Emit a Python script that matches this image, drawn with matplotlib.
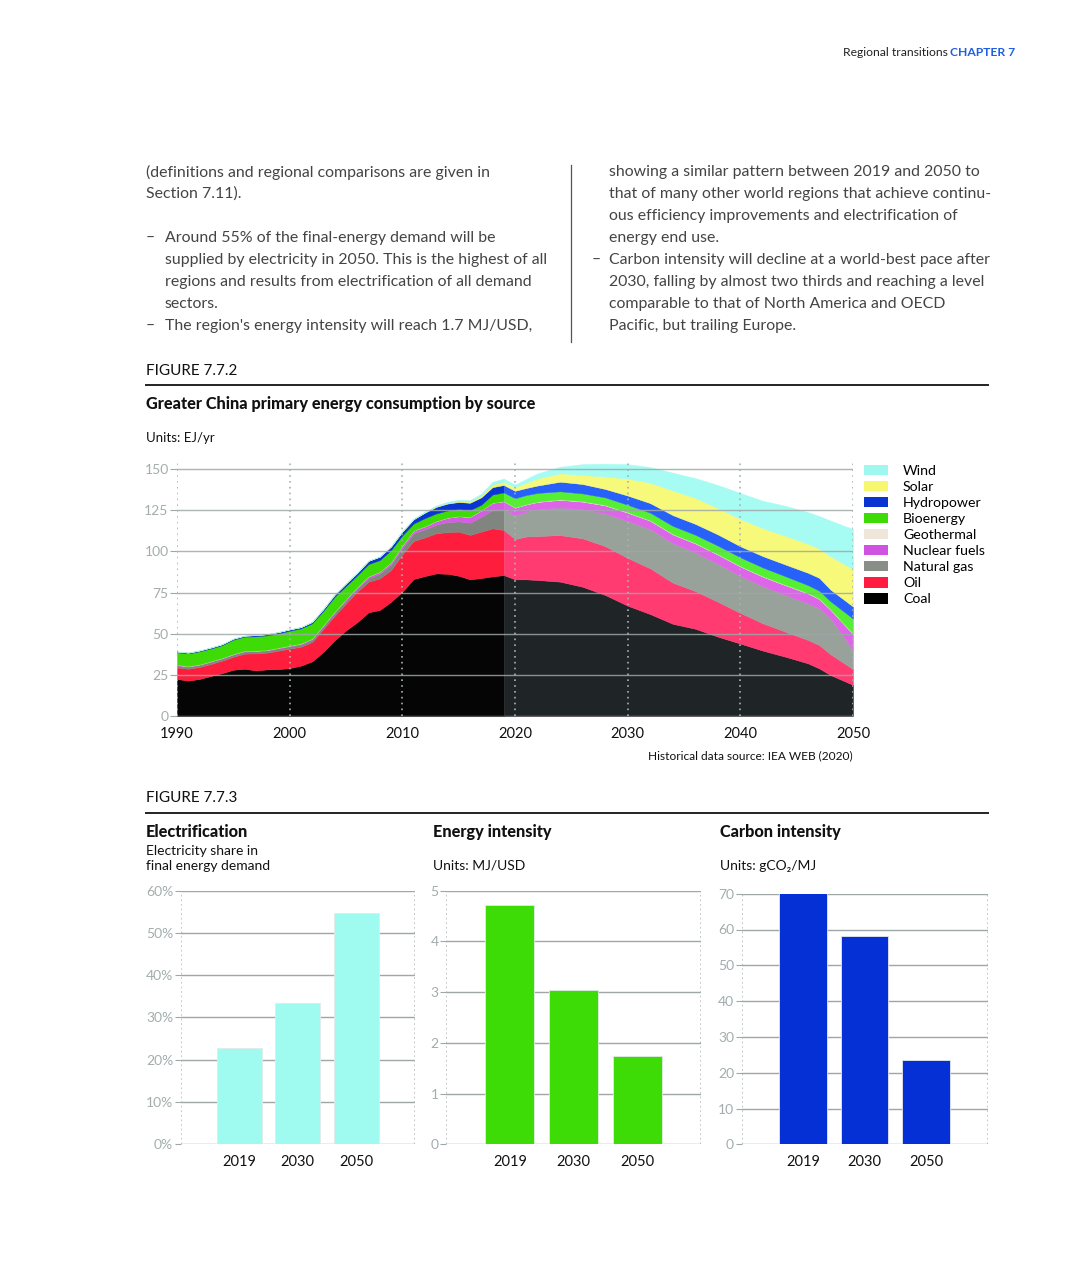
import matplotlib.pyplot as plt
from matplotlib.lines import Line2D
from matplotlib.patches import Patch
import numpy as np

plt.rcParams['font.family'] = ['Lato', 'DejaVu Sans']

W, H = 1087, 1276

# ---- data: primary energy by source (EJ/yr), historical
hist_years = list(range(1990, 2020))
hist_coal = [22.5, 21.5, 22.5, 24.3, 26.0, 28.1, 28.7, 27.7, 28.3, 28.5, 29.1, 30.6, 33.2, 39.0, 46.0,
             52.0, 57.0, 63.0, 64.4, 69.4, 75.5, 83.2, 85.0, 86.6, 86.4, 85.2, 83.0, 83.8, 84.8, 85.6]
hist_oil = [7.0, 7.2, 7.3, 7.3, 7.6, 7.9, 9.2, 10.3, 10.2, 11.2, 11.8, 11.5, 11.8, 14.0, 15.0,
            16.4, 18.5, 18.6, 19.2, 19.3, 22.7, 23.1, 23.5, 24.4, 25.3, 26.8, 27.0, 28.2, 29.2, 27.4]
hist_gas = [1.2, 1.2, 1.2, 1.3, 1.3, 1.3, 1.3, 1.3, 1.3, 1.3, 1.4, 1.4, 1.5, 1.6, 1.8,
            1.9, 2.0, 2.2, 2.9, 3.3, 3.8, 4.7, 4.9, 5.2, 6.1, 6.2, 7.4, 9.0, 11.0, 12.6]
hist_nuclear = [0.3, 0.3, 0.3, 0.3, 0.3, 0.3, 0.3, 0.3, 0.3, 0.4, 0.4, 0.5, 0.5, 0.6, 0.6,
                0.7, 0.8, 1.0, 1.1, 1.3, 1.5, 1.6, 1.8, 2.1, 2.6, 3.1, 3.5, 3.8, 4.5, 4.8]
hist_geo = [0.1, 0.1, 0.1, 0.1, 0.1, 0.1, 0.1, 0.1, 0.1, 0.1, 0.1, 0.1, 0.1, 0.1, 0.1,
            0.1, 0.1, 0.1, 0.1, 0.1, 0.1, 0.1, 0.1, 0.1, 0.1, 0.1, 0.1, 0.1, 0.1, 0.1]
hist_bio = [7.6, 7.7, 7.9, 7.7, 7.7, 8.7, 8.6, 8.7, 8.8, 8.7, 9.0, 9.1, 9.2, 8.7, 9.0,
            7.9, 7.1, 7.4, 7.0, 7.4, 6.1, 4.2, 4.9, 4.6, 4.3, 4.3, 4.0, 3.4, 4.9, 5.3]
hist_hydro = [0.5, 0.5, 0.5, 0.6, 0.6, 0.6, 0.6, 0.7, 0.7, 0.8, 0.8, 0.8, 0.9, 1.1, 1.3,
              1.5, 1.5, 2.0, 2.1, 2.2, 2.3, 2.6, 3.3, 4.0, 4.2, 4.3, 4.5, 4.5, 4.5, 4.5]
hist_solar = [0.0, 0.0, 0.0, 0.0, 0.0, 0.0, 0.0, 0.0, 0.0, 0.0, 0.0, 0.0, 0.0, 0.0, 0.0,
              0.0, 0.0, 0.0, 0.0, 0.0, 0.05, 0.1, 0.2, 0.3, 0.4, 0.5, 0.7, 1.0, 1.6, 2.0]
hist_wind = [0.0, 0.0, 0.0, 0.0, 0.0, 0.0, 0.0, 0.0, 0.0, 0.0, 0.0, 0.0, 0.0, 0.0, 0.0,
             0.0, 0.0, 0.0, 0.1, 0.2, 0.3, 0.4, 0.5, 0.6, 0.7, 0.8, 0.9, 1.2, 1.6, 1.9]

# ---- projection
proj_years = [2019, 2020, 2021, 2022, 2024, 2026, 2028, 2030, 2032, 2034, 2036, 2038, 2040,
              2042, 2044, 2046, 2047, 2048, 2050]
proj_coal = [85.6, 83.0, 83.0, 82.6, 81.6, 78.5, 73.5, 67.0, 61.9, 56.0, 53.0, 48.2, 44.0,
             39.7, 36.0, 32.0, 28.9, 24.9, 18.9]
proj_oil = [27.4, 24.5, 26.0, 26.7, 28.3, 29.4, 29.7, 29.0, 27.8, 25.0, 22.9, 21.2, 18.6,
            16.6, 15.2, 14.2, 14.2, 12.6, 9.6]
proj_gas = [12.6, 14.5, 15.0, 16.2, 16.8, 17.6, 19.9, 22.5, 23.8, 24.0, 23.5, 23.0, 22.5,
            22.5, 22.3, 22.2, 22.3, 21.9, 11.5]
proj_nuclear = [4.8, 4.5, 4.5, 4.5, 4.6, 4.7, 4.8, 5.0, 5.1, 5.3, 5.4, 5.6, 5.7,
                5.8, 5.9, 6.0, 5.6, 5.1, 9.7]
proj_geo = [0.1, 0.2, 0.2, 0.2, 0.3, 0.3, 0.3, 0.3, 0.3, 0.3, 0.3, 0.3, 0.3,
            0.3, 0.3, 0.3, 0.3, 0.3, 0.3]
proj_bio = [5.3, 5.6, 5.5, 5.3, 4.9, 4.7, 4.6, 4.5, 4.6, 4.9, 5.0, 5.2, 5.3,
            5.3, 5.2, 4.8, 4.8, 4.9, 9.2]
proj_hydro = [4.5, 4.5, 4.3, 4.5, 5.8, 5.7, 5.1, 5.6, 5.8, 6.5, 6.6, 6.8, 6.7,
              6.9, 7.1, 7.5, 7.8, 7.1, 7.3]
proj_solar = [2.0, 2.2, 3.2, 4.3, 5.1, 5.5, 7.6, 10.3, 12.4, 15.0, 15.8, 16.0, 16.6,
              17.0, 17.4, 17.6, 17.8, 20.2, 22.7]
proj_wind = [1.9, 1.6, 2.3, 3.1, 4.0, 6.6, 7.7, 8.8, 9.5, 10.8, 12.0, 14.0, 15.7,
             16.6, 18.3, 19.2, 19.8, 21.7, 24.3]

sources = ['Coal', 'Oil', 'Natural gas', 'Nuclear fuels', 'Geothermal',
           'Bioenergy', 'Hydropower', 'Solar', 'Wind']
hist_colors = ['#050505', '#ff1d3d', '#80867f', '#d35ee2', '#efe6d6',
               '#3fdb06', '#0b35d2', '#f4f46a', '#a0f7f0']
proj_colors = ['#1f2427', '#ff3b72', '#99a19b', '#dd66e8', '#f2eadc',
               '#55ef33', '#2860fa', '#f7f97a', '#a6fbf3']
legend_colors = ['#000000', '#ff1c40', '#8a8e88', '#d052e0', '#eee6d8',
                 '#3ddc06', '#0a34d1', '#f6f76e', '#9ff8f0']

# ---- figure 7.7.3 bars
bar_labels = ['2019', '2030', '2050']
electrification = [22.8, 33.4, 54.7]
energy_intensity = [4.72, 3.03, 1.74]
carbon_intensity = [70.5, 58.2, 23.6]

GRID = '#9ea8a8'
TICK = '#a3adad'
BODY = '#444444'


def fx(px):
    return px / W


def fy(py):
    return 1 - py / H


def ftext(x, y, s, **kw):
    kw.setdefault('va', 'center')
    fig.text(fx(x), fy(y), s, **kw)


def hline(x0, x1, y, **kw):
    fig.add_artist(Line2D([fx(x0), fx(x1)], [fy(y), fy(y)], **kw))


fig = plt.figure(figsize=(W / 100, H / 100), dpi=100)

# header
ftext(1015, 52, 'CHAPTER 7', ha='right', fontsize=8.7, fontweight='bold', color='#1f5fe0')
ftext(948, 52, 'Regional transitions', ha='right', fontsize=8.7, color='#222222')

# body text
left_lines = [(146, 172, '(definitions and regional comparisons are given in'),
              (146, 194, 'Section 7.11).'),
              (165, 238, 'Around 55% of the final-energy demand will be'),
              (165, 260, 'supplied by electricity in 2050. This is the highest of all'),
              (165, 282, 'regions and results from electrification of all demand'),
              (165, 304, 'sectors.'),
              (165, 326, "The region's energy intensity will reach 1.7 MJ/USD,")]
right_lines = [(609, 172, 'showing a similar pattern between 2019 and 2050 to'),
               (609, 194, 'that of many other world regions that achieve continu-'),
               (609, 216, 'ous efficiency improvements and electrification of'),
               (609, 238, 'energy end use.'),
               (609, 260, 'Carbon intensity will decline at a world-best pace after'),
               (609, 282, '2030, falling by almost two thirds and reaching a level'),
               (609, 304, 'comparable to that of North America and OECD'),
               (609, 326, 'Pacific, but trailing Europe.')]
for x, y, s in left_lines + right_lines:
    ftext(x, y, s, fontsize=11.4, color=BODY)
for x, y in [(146, 238), (146, 326), (592, 260)]:
    ftext(x, y, '–', fontsize=11.4, color=BODY)
fig.add_artist(Line2D([fx(571), fx(571)], [fy(165), fy(342)], color='#555555', lw=0.9))

# figure 7.7.2 header
ftext(146, 371, 'FIGURE 7.7.2', fontsize=11, color='#111111')
hline(146, 988, 385, color='#222222', lw=1.4)
ftext(146, 404, 'Greater China primary energy consumption by source', fontsize=11.7,
      fontweight='black', color='#111111')
ftext(146, 438, 'Units: EJ/yr', fontsize=9.5, color='#111111')

# stacked area
ax = fig.add_axes([fx(177), fy(716), (853 - 177) / W, (716 - 460) / H])
hist_stack = [hist_coal, hist_oil, hist_gas, hist_nuclear, hist_geo,
              hist_bio, hist_hydro, hist_solar, hist_wind]
proj_stack = [proj_coal, proj_oil, proj_gas, proj_nuclear, proj_geo,
              proj_bio, proj_hydro, proj_solar, proj_wind]
ax.stackplot(hist_years, *hist_stack, colors=hist_colors, edgecolor='face', lw=0.3, zorder=2)
ax.stackplot(proj_years, *proj_stack, colors=proj_colors, edgecolor='face', lw=0.3, zorder=2)
ax.set_xlim(1990, 2050)
ax.set_ylim(0, 155.5)
yt = [0, 25, 50, 75, 100, 125, 150]
for t in yt:
    ax.axhline(t, color=GRID, lw=1, alpha=0.85, zorder=3)
for yr in range(1990, 2051, 10):
    ax.axvline(yr, color='#a9b1b1', lw=1.2, ls=(0, (1, 2.5)), zorder=3)
ax.set_yticks(yt)
ax.set_xticks(range(1990, 2051, 10))
for s in ax.spines.values():
    s.set_visible(False)
ax.tick_params(axis='y', length=5, color=GRID, labelcolor=TICK, labelsize=10, pad=1)
ax.tick_params(axis='x', length=0, labelcolor='#111111', labelsize=10.5, pad=8)

handles = [Patch(facecolor=c, edgecolor='none') for c in legend_colors[::-1]]
ax.legend(handles, sources[::-1], loc='upper left', bbox_to_anchor=(fx(864), fy(464.5)),
          bbox_transform=fig.transFigure, frameon=False, fontsize=10.2,
          handlelength=1.7, handleheight=0.8, handletextpad=1.05, labelspacing=0.26,
          borderpad=0, borderaxespad=0)

ftext(853, 756, 'Historical data source: IEA WEB (2020)', ha='right', fontsize=8.6, color='#111111')

# figure 7.7.3 header
ftext(146, 798, 'FIGURE 7.7.3', fontsize=11, color='#111111')
hline(146, 988, 813, color='#222222', lw=1.4)

ftext(146, 832, 'Electrification', fontsize=11.7, fontweight='black', color='#111111')
ftext(146, 851, 'Electricity share in', fontsize=10, color='#111111')
ftext(146, 866, 'final energy demand', fontsize=10, color='#111111')
ftext(433, 832, 'Energy intensity', fontsize=11.7, fontweight='black', color='#111111')
ftext(433, 866, 'Units: MJ/USD', fontsize=10, color='#111111')
ftext(720, 832, 'Carbon intensity', fontsize=11.7, fontweight='black', color='#111111')
ftext(720, 866, 'Units: gCO₂/MJ', fontsize=10, color='#111111')


def bar_panel(left, right, top, values, color, ymax, step, fmt):
    a = fig.add_axes([fx(left), fy(1144.3), (right - left) / W, (1144.3 - top) / H])
    xs = np.arange(len(values))
    a.bar(xs, values, width=0.77, color=color, edgecolor='#e3eaea', lw=0.6, zorder=2)
    a.set_xlim(-1, 3)
    a.set_ylim(0, ymax)
    ticks = np.arange(0, ymax + step / 2, step)
    for t in ticks:
        a.axhline(t, color=GRID, lw=1, zorder=1)
    for xe in (-1, 3):
        a.axvline(xe, color='#a9b1b1', lw=1.1, ls=(0, (1, 2)), zorder=1)
    a.set_yticks(ticks)
    a.set_yticklabels([fmt(t) for t in ticks])
    a.set_xticks(xs)
    a.set_xticklabels(bar_labels)
    for s in a.spines.values():
        s.set_visible(False)
    a.tick_params(axis='y', length=4, color=GRID, labelcolor=TICK, labelsize=10, pad=1.5)
    a.tick_params(axis='x', length=0, labelcolor='#111111', labelsize=10.5, pad=7.5)
    return a


bar_panel(180.7, 414.5, 890.5, electrification, '#9ffaf0', 60, 10, lambda t: f'{int(t)}%')
bar_panel(446.3, 701.0, 890.5, energy_intensity, '#3ddc06', 5, 1, lambda t: f'{int(t)}')
bar_panel(741.7, 987.5, 893.7, carbon_intensity, '#0430d6', 70, 10, lambda t: f'{int(t)}')

fig.savefig('out.png', dpi=100, facecolor='white')
